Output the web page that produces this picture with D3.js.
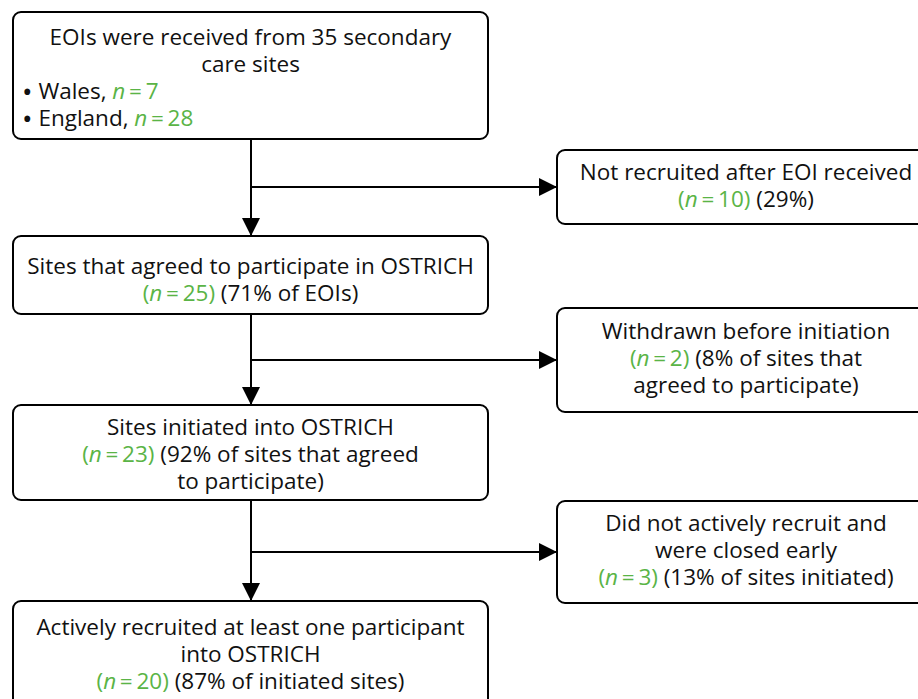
<!DOCTYPE html>
<html>
<head>
<meta charset="utf-8">
<script src="https://cdn.jsdelivr.net/npm/d3@7"></script>
<style>
  body { margin: 0; background: #fff; }
  text { font-family: "Open Sans", "Noto Sans", sans-serif; font-size: 22.5px; fill: #111; }
</style>
</head>
<body>
<div id="chart"></div>
<script>
// flow values
const regionNames = ["Wales", "England"];
const regionN = [7, 28];

const stageLabels = [
    ["EOIs were received from 35 secondary", "care sites"],
    ["Sites that agreed to participate in OSTRICH"],
    ["Sites initiated into OSTRICH"],
    ["Actively recruited at least one participant", "into OSTRICH"]
];
const stageN = [35, 25, 23, 20];
const stagePct = [null, "71% of EOIs", "92% of sites that agreed", "87% of initiated sites"];
const stagePctTail = [null, null, "to participate)", null];

const exitLabels = [
    ["Not recruited after EOI received"],
    ["Withdrawn before initiation"],
    ["Did not actively recruit and", "were closed early"]
];
const exitN = [10, 2, 3];
const exitPct = ["29%", "8% of sites that", "13% of sites initiated"];
const exitPctTail = [null, "agreed to participate)", null];

// layout (kept apart from the values)
const W = 918, H = 699;
const mainX = [13, 488];
const sideX = [557, 935];
const trunkX = 251;
const mainY = [[12, 139], [236, 314], [405, 500], [601, 715]];
const sideY = [[150, 224], [308, 412], [501, 603]];
const mainFirst = [37, 266, 427, 627];
const sideFirst = [172, 331, 523];
const branchY = [187, 360, 552];
const lineGap = 27;
const green = "#5ab446";

const svg = d3.select("#chart").append("svg")
    .attr("width", W)
    .attr("height", H);

svg.append("defs").append("marker")
    .attr("id", "head")
    .attr("viewBox", "0 0 10 10")
    .attr("refX", 10).attr("refY", 5)
    .attr("markerUnits", "userSpaceOnUse")
    .attr("markerWidth", 18).attr("markerHeight", 20)
    .attr("orient", "auto")
    .append("path")
    .attr("d", "M0,0 L10,5 L0,10 Z")
    .attr("fill", "#000");

// the n = x part, all green
function nSegs(n, paren) {
    let s = [];
    if (paren) s.push({t: "(", g: true});
    s.push({t: "n", g: true, i: true});
    s.push({t: "\u2009=\u2009" + n + (paren ? ")" : ""), g: true});
    return s;
}

function stageLines(i) {
    let lines = stageLabels[i].map(l => ({anchor: "middle", segs: [{t: l}]}));
    if (i === 0) {
        regionNames.forEach(function (r, k) {
            lines.push({anchor: "start", segs: [{t: "\u2022", b: true}, {t: " " + r + ", ", up: true}].concat(nSegs(regionN[k], false))});
        });
    } else {
        lines.push({anchor: "middle", segs: nSegs(stageN[i], true).concat([{t: " (" + stagePct[i] + (stagePctTail[i] ? "" : ")")}])});
        if (stagePctTail[i]) lines.push({anchor: "middle", segs: [{t: stagePctTail[i]}]});
    }
    return lines;
}

function exitLines(i) {
    let lines = exitLabels[i].map(l => ({anchor: "middle", segs: [{t: l}]}));
    lines.push({anchor: "middle", segs: nSegs(exitN[i], true).concat([{t: " (" + exitPct[i] + (exitPctTail[i] ? "" : ")")}])});
    if (exitPctTail[i]) lines.push({anchor: "middle", segs: [{t: exitPctTail[i]}]});
    return lines;
}

function drawBox(x0, x1, y0, y1, lines, firstY) {
    let g = svg.append("g");
    g.append("rect")
        .attr("x", x0).attr("y", y0)
        .attr("width", x1 - x0).attr("height", y1 - y0)
        .attr("rx", 8).attr("ry", 8)
        .attr("fill", "#fff")
        .attr("stroke", "#000")
        .attr("stroke-width", 2);
    let cx = (x0 + x1) / 2;
    lines.forEach(function (ln, k) {
        let t = g.append("text")
            .attr("x", ln.anchor === "start" ? x0 + 9 : cx)
            .attr("y", firstY + k * lineGap + 8);
        t.attr("text-anchor", ln.anchor);
        t.selectAll("tspan")
            .data(ln.segs)
            .enter()
            .append("tspan")
            .style("fill", d => d.g ? green : null)
            .style("font-style", d => d.i ? "italic" : null)
            .style("font-size", d => d.b ? "28px" : null)
            .attr("dy", d => d.b ? 3 : (d.up ? -3 : null))
            .attr("xml:space", "preserve")
            .text(d => d.t);
    });
}

// trunk and branches
mainY.slice(1).forEach(function (b, i) {
    svg.append("line")
        .attr("x1", trunkX).attr("x2", trunkX)
        .attr("y1", mainY[i][1]).attr("y2", b[0])
        .attr("stroke", "#000").attr("stroke-width", 2)
        .attr("marker-end", "url(#head)");
});
branchY.forEach(function (y) {
    svg.append("line")
        .attr("x1", trunkX).attr("x2", sideX[0])
        .attr("y1", y).attr("y2", y)
        .attr("stroke", "#000").attr("stroke-width", 2)
        .attr("marker-end", "url(#head)");
});

stageLabels.forEach(function (d, i) {
    drawBox(mainX[0], mainX[1], mainY[i][0], mainY[i][1], stageLines(i), mainFirst[i]);
});
exitLabels.forEach(function (d, i) {
    drawBox(sideX[0], sideX[1], sideY[i][0], sideY[i][1], exitLines(i), sideFirst[i]);
});
</script>
</body>
</html>
